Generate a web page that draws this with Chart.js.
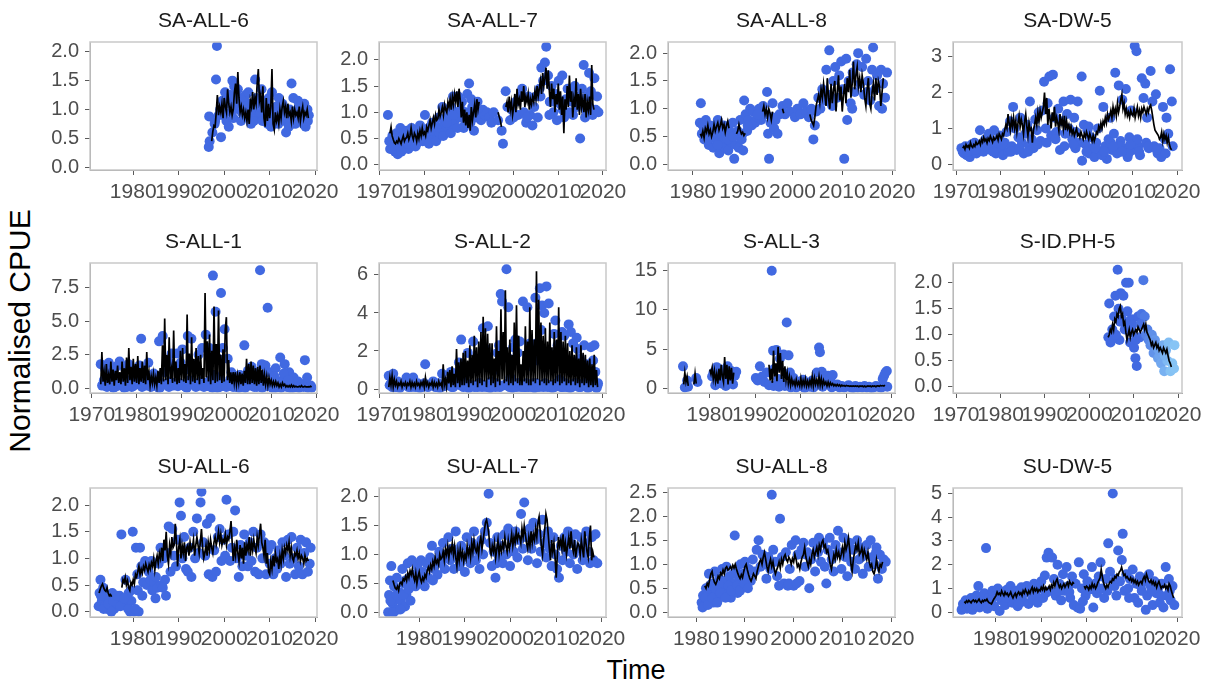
<!DOCTYPE html>
<html>
<head>
<meta charset="utf-8">
<script src="https://cdn.jsdelivr.net/npm/chart.js@4.4.1/dist/chart.umd.min.js"></script>
<style>
  html, body { margin: 0; padding: 0; background: #ffffff; }
  #page { position: relative; width: 1209px; height: 688px; overflow: hidden;
          font-family: "Liberation Sans", Arial, Helvetica, sans-serif; }
  #page canvas { position: absolute; }
  .axis-title { position: absolute; color: #000; line-height: 1; white-space: nowrap; }
  #xTitle { left: 636px; top: 670px; font-size: 27px; transform: translate(-50%, -50%); }
  #yTitle { left: 20px; top: 331px; font-size: 30px; transform: translate(-50%, -50%) rotate(-90deg); }
</style>
</head>
<body>
<div id="page">
  <div class="axis-title" id="xTitle">Time</div>
  <div class="axis-title" id="yTitle">Normalised CPUE</div>
</div>
<script>
// ---------------------------------------------------------------------------
// Tick labels
// ---------------------------------------------------------------------------
const decadeTicks = [1970, 1980, 1990, 2000, 2010, 2020];
const ticksHalf2 = [0, 0.5, 1, 1.5, 2];
const ticksHalf25 = [0, 0.5, 1, 1.5, 2, 2.5];
const ticksUnit3 = [0, 1, 2, 3];
const ticksUnit5 = [0, 1, 2, 3, 4, 5];
const ticksS1 = [0, 2.5, 5, 7.5];
const ticksS2 = [0, 2, 4, 6];
const ticksS3 = [0, 5, 10, 15];

// ---------------------------------------------------------------------------
// Observed CPUE: [time, normalised CPUE]
// Fitted CPUE: quarterly values starting at the given time (null = no fit)
// ---------------------------------------------------------------------------
const saAll6Obs = [[1996.6,0.35],[1996.8,0.45],[1996.7,0.88],[1997.4,0.6],[1997.9,0.75],[1998.2,1.52],[1998.4,2.1],[1998.8,0.9],[1999.3,0.52],[1999.1,1.0],[1999.6,1.15],[2000.2,1.3],[2000.5,0.8],[2000.9,1.1],[2001.4,1.25],[2001.8,1.5],[2002.2,1.4],[2002.6,1.05],[2003.0,1.35],[2003.5,1.2],[2003.9,0.95],[2004.3,0.9],[2004.7,1.25],[2005.1,1.1],[2005.5,0.85],[2005.9,0.75],[2006.3,1.0],[2006.8,1.52],[2007.1,1.2],[2007.5,0.9],[2007.9,1.15],[2008.2,1.35],[2008.6,1.1],[2009.0,0.8],[2009.4,0.95],[2009.8,1.2],[2010.3,0.7],[2010.7,1.0],[2011.1,0.85],[2011.5,1.05],[2011.9,0.75],[2012.3,0.95],[2012.8,1.1],[2013.2,0.8],[2013.6,0.6],[2014.0,0.9],[2014.4,1.0],[2014.8,1.45],[2015.2,1.2],[2015.6,0.75],[2016.0,0.9],[2016.4,1.05],[2016.8,0.8],[2017.2,0.95],[2017.6,1.1],[2018.0,0.85],[2018.3,1.0],[2018.6,0.9],[1998.0,0.8],[2000.0,0.95],[2002.0,0.85],[2004.0,1.15],[2006.0,1.1],[2008.0,0.95],[2010.0,0.9],[2012.0,1.2],[2014.2,0.7],[2016.2,1.15],[2017.9,0.7],[2001.0,0.7],[2003.2,1.0],[2005.3,1.3],[2009.2,1.1],
  [1999.8,0.9],[2000.7,1.2],[2001.6,0.95],[2002.4,1.2],[2003.7,0.8],[2004.5,1.05],[2005.7,0.95],[2006.5,0.8],[2007.3,1.05],[2008.4,0.8],[2009.6,0.75],[2010.5,1.3],[2011.3,0.95],[2012.5,0.85],[2013.4,1.0],[2014.6,0.85],[2015.4,0.95],[2016.6,0.95],[2017.4,0.75],[2018.4,0.8]];
const saAll6FitStart = 1997.25;
const saAll6Fit = [0.45,0.62,0.72,
  0.70,0.95,1.25,0.90, 1.05,0.95,1.10,0.85, 1.20,1.05,0.95,1.35, 1.10,0.95,1.05,0.90,
  1.00,1.30,1.45,1.10, 1.65,1.20,0.95,1.05, 0.90,1.00,0.85,0.95, 0.80,1.00,0.75,1.15,
  1.05,1.30,1.00,1.20, 1.10,1.45,1.70,1.15, 1.25,0.95,1.40,0.85, 0.70,1.20,0.80,1.10,
  0.85,1.05,1.70,0.75, 0.65,0.95,0.80,0.90, 0.75,1.00,0.85,1.05, 1.15,0.95,1.05,0.85,
  1.10,0.90,0.95,0.80, 1.05,0.85,1.00,0.90, 0.95,0.85,1.05,0.80, 0.95,1.05,0.85,0.95,
  0.90,1.00,0.85];

const saAll7Obs = [[1971.8,0.95],[1972.3,0.3],[1972.5,0.45],[1972.8,0.55],[1973.1,0.35],[1973.4,0.25],[1973.7,0.6],[1974.0,0.2],[1974.3,0.45],[1974.6,0.7],[1975.0,0.35],[1975.3,0.55],[1975.7,0.4],[1976.0,0.65],[1976.4,0.3],[1976.8,0.5],[1977.1,0.7],[1977.5,0.45],[1977.9,0.6],[1978.2,0.4],[1978.6,0.55],[1979.0,0.75],[1979.4,0.5],[1979.8,0.6],[1980.1,0.95],[1980.5,0.45],[1980.9,0.7],[1981.3,0.55],[1981.7,0.8],[1982.0,0.6],[1982.4,0.75],[1982.8,0.5],[1983.2,0.9],[1983.6,0.7],[1984.0,1.1],[1984.4,0.8],[1984.8,0.65],[1985.2,0.95],[1985.6,0.75],[1986.0,1.1],[1986.4,1.3],[1986.8,0.85],[1987.2,1.0],[1987.6,1.3],[1988.0,0.9],[1988.4,1.2],[1988.8,0.7],[1989.2,1.0],[1989.6,1.35],[1990.0,1.55],[1990.3,0.8],[1990.7,1.1],[1991.1,0.65],[1991.5,0.9],[1991.9,1.2],[1992.3,1.0],[1992.7,0.85],[1993.1,1.05],[1993.5,0.95],[1994.0,1.0],[1994.5,0.9],[1995.0,0.8],[1995.5,1.0],[1996.5,0.85],[1997.3,0.65],[1997.6,0.4],[1998.2,1.4],[1998.6,1.1],[1999.2,0.85],[1999.6,1.05],[2000.0,0.9],[2000.5,1.2],[2001.0,0.95],[2001.4,1.3],[2001.9,1.45],[2002.3,1.0],[2002.8,0.8],[2003.3,1.3],[2003.7,0.95],[2004.2,0.75],[2004.6,1.1],[2005.0,1.3],[2005.4,0.9],[2005.8,1.45],[2006.2,1.85],[2006.6,1.6],[2007.0,1.95],[2007.3,2.25],[2007.7,1.7],[2008.1,1.2],[2008.5,1.5],[2008.9,1.0],[2009.3,1.35],[2009.7,0.85],[2010.1,1.6],[2010.5,1.15],[2010.9,1.7],[2011.3,0.9],[2011.7,1.25],[2012.1,1.45],[2012.5,1.0],[2012.9,1.35],[2013.3,0.95],[2013.7,1.5],[2014.1,1.1],[2014.5,1.3],[2014.9,0.5],[2015.3,1.45],[2015.7,1.9],[2016.1,1.05],[2016.5,1.3],[2016.9,1.75],[2017.3,1.4],[2017.7,0.95],[2018.1,1.65],[2018.4,1.05],[2018.7,1.3],[2019.0,1.0],[2003.0,0.9],[2009.0,1.2],[2011.0,1.05],[2013.0,1.2],[2016.0,0.9],[2017.0,1.1],[2006.0,1.3],[2008.0,0.95],
  [1972.1,0.45],[1972.9,0.3],[1973.3,0.5],[1974.1,0.35],[1974.8,0.25],[1975.5,0.45],[1976.2,0.4],[1977.3,0.55],[1978.0,0.35],[1978.8,0.65],[1979.6,0.45],[1980.3,0.6],[1981.0,0.4],[1981.9,0.65],[1982.6,0.45],[1983.4,0.6],[1984.2,0.55],[1985.0,0.8],[1985.9,0.6],[1986.6,0.95],[1987.4,0.7],[1988.2,1.05],[1989.0,0.75],[1989.8,0.9],[1990.5,1.25],[1991.3,1.0]];
const saAll7FitStart = 1972.25;
const saAll7Fit = [0.60,0.72,0.55,
  0.48,0.42,0.40,0.45, 0.42,0.50,0.45,0.40, 0.48,0.55,0.45,0.50, 0.52,0.60,0.48,0.55,
  0.70,0.55,0.48,0.60, 0.55,0.45,0.60,0.50, 0.65,0.55,0.70,0.58, 0.62,0.55,0.72,0.65,
  0.75,0.85,0.70,0.80, 0.90,0.78,0.95,0.85, 0.88,1.05,0.92,1.00, 1.10,0.95,1.15,1.05,
  1.00,1.20,1.10,1.25, 1.05,1.30,1.15,1.35, 1.20,1.40,1.10,1.45, 1.25,0.90,1.20,0.80,
  1.05,0.75,1.00,0.70, 0.95,0.65,1.10,0.85, 1.00,1.15,0.90,1.25, 1.05,1.20,null,null,
  null,null,null,null, null,null,null,null, null,null,null,null,
  null,null,1.00,0.92, 0.85,0.72,null,null, null,1.10,1.20,1.00, 1.30,1.05,1.20,0.95,
  1.10,1.35,1.00,1.45, 1.15,1.25,1.05,1.40, 1.20,1.50,1.10,1.30, 1.20,1.35,1.05,1.25,
  1.15,1.30,1.20,1.40, 1.25,1.50,1.30,1.45, 1.60,1.35,1.75,1.50, 1.65,1.85,1.45,1.80,
  1.40,1.10,1.55,1.25, 1.45,1.00,1.35,1.15, 1.55,1.05,1.40,0.95, 1.30,0.60,1.25,1.05,
  1.50,1.10,1.70,1.20, 1.40,0.90,1.25,1.10, 1.65,1.05,1.35,0.95, 1.45,1.10,1.25,1.00,
  1.35,0.90,1.20,1.05, 1.30,0.95,1.90,1.15, 1.05];

const saAll8Obs = [[1981.4,0.75],[1981.6,1.1],[1981.8,0.55],[1982.0,0.7],[1982.3,0.45],[1982.6,0.8],[1982.9,0.6],[1983.2,0.35],[1983.5,0.7],[1983.8,0.5],[1984.1,0.3],[1984.4,0.65],[1984.7,0.45],[1985.0,0.8],[1985.3,0.2],[1985.6,0.55],[1985.9,0.4],[1986.2,0.7],[1986.5,0.3],[1986.8,0.5],[1987.1,0.25],[1987.4,0.6],[1987.7,0.4],[1988.0,0.75],[1988.3,0.1],[1988.6,0.35],[1988.9,0.55],[1989.2,0.3],[1989.5,0.8],[1989.8,0.45],[1990.1,0.25],[1990.3,1.15],[1990.6,0.9],[1990.9,0.6],[1991.2,0.8],[1991.5,1.0],[1991.8,0.7],[1992.1,0.95],[1992.5,0.75],[1992.9,0.85],[1993.3,1.0],[1993.7,0.8],[1994.1,1.05],[1994.5,0.9],[1994.9,1.3],[1995.1,0.55],[1995.3,0.1],[1995.6,0.75],[1996.0,1.1],[1996.3,0.65],[1996.6,0.8],[1997.0,0.55],[1997.4,0.9],[1998.0,1.05],[1998.5,0.9],[1999.0,1.1],[1999.5,0.95],[2000.5,0.85],[2001.0,1.0],[2001.6,0.9],[2002.2,1.1],[2002.7,0.95],[2003.3,0.85],[2003.8,1.0],[2004.2,0.45],[2004.5,0.7],[2004.8,0.95],[2005.2,1.2],[2005.6,1.0],[2006.0,1.35],[2006.4,1.15],[2006.8,1.7],[2007.1,1.25],[2007.4,2.05],[2007.8,1.1],[2008.2,1.5],[2008.6,1.75],[2009.0,1.2],[2009.4,1.6],[2009.8,1.85],[2010.1,1.35],[2010.4,0.1],[2010.8,1.9],[2011.0,0.8],[2011.3,1.5],[2011.7,1.1],[2012.1,1.65],[2012.5,1.3],[2012.9,1.8],[2013.2,2.0],[2013.6,1.45],[2014.0,1.75],[2014.4,1.25],[2014.8,1.9],[2015.2,1.5],[2015.6,1.15],[2016.0,1.7],[2016.2,2.1],[2016.6,1.35],[2017.0,1.6],[2017.4,1.05],[2017.8,1.7],[2018.2,1.45],[2018.6,1.2],[2019.0,1.65],[2008.0,1.05],[2012.0,1.0],[2015.0,1.3],[2018.0,1.0],
  [1982.2,0.6],[1983.0,0.45],[1984.0,0.55],[1985.0,0.35],[1986.0,0.6],[1987.0,0.45],[1988.1,0.5],[1989.0,0.6],[1990.0,0.55],[1991.0,0.7],[1993.0,0.9],[1995.9,0.85]];
const saAll8FitStart = 1981.5;
const saAll8Fit = [0.55,0.50,
  0.60,0.48,0.65,0.58, 0.70,0.55,0.62,0.50, 0.58,0.72,0.60,0.68, 0.75,0.62,0.70,0.80,
  0.65,0.72,0.58,0.70, 0.78,0.65,null,null, null,null,null,0.55, 0.60,0.72,0.62,0.55,
  0.58,0.52,0.56,null, null,null,null,null, null,null,null,null, null,null,null,null,
  0.95,1.05,0.90,1.00, 0.85,1.00,0.92,0.80, 0.95,null,null,null, null,null,null,null,
  1.00,0.92,null,null, null,null,null,null, null,null,null,null, null,null,null,null,
  null,null,null,null, null,null,0.90,0.80, 0.75,0.70,0.85,1.05, 1.15,1.25,1.10,1.35,
  1.20,1.45,1.25,1.05, 1.55,1.20,1.00,1.45, 1.10,1.35,1.50,0.95, 1.30,1.60,1.15,1.40,
  0.95,1.25,1.45,1.10, 1.55,1.30,1.70,1.20, 1.45,1.85,1.35,1.60, 1.75,1.40,1.55,1.30,
  1.60,1.45,1.20,1.05, 1.35,1.55,1.10,1.00, 1.30,1.45,1.15,1.55, 1.25,1.50,1.40,1.05,
  1.30,1.55];

const saDw5Obs = [[1971.2,0.45],[1971.5,0.35],[1971.8,0.3],[1972.1,0.5],[1972.4,0.25],[1972.8,0.4],[1973.1,0.2],[1973.5,0.55],[1973.9,0.35],[1974.2,0.6],[1974.6,0.3],[1975.0,0.45],[1975.4,0.95],[1975.8,0.55],[1976.2,0.35],[1976.6,0.7],[1977.0,0.5],[1977.4,0.85],[1977.8,0.4],[1978.2,0.65],[1978.6,0.95],[1979.0,0.3],[1979.4,0.55],[1979.8,0.8],[1980.2,0.45],[1980.6,0.25],[1981.0,0.6],[1981.4,0.9],[1981.8,0.35],[1982.2,1.2],[1982.6,0.5],[1982.9,1.6],[1983.3,1.0],[1983.7,0.4],[1984.1,0.75],[1984.5,1.3],[1984.9,0.6],[1985.3,0.3],[1985.7,0.85],[1986.1,1.1],[1986.5,0.5],[1986.7,1.75],[1987.1,0.7],[1987.5,0.45],[1987.9,1.25],[1988.3,0.95],[1988.7,1.45],[1989.1,0.65],[1989.5,1.5],[1989.9,2.3],[1990.3,1.0],[1990.7,1.7],[1991.1,2.45],[1991.5,0.8],[1991.9,2.5],[1992.3,1.3],[1992.7,0.9],[1993.1,1.55],[1993.5,0.4],[1993.9,1.2],[1994.3,1.75],[1994.7,0.85],[1995.1,1.4],[1995.5,1.0],[1995.9,1.8],[1996.3,0.7],[1996.7,1.3],[1997.1,0.9],[1997.5,1.75],[1997.9,0.6],[1998.4,2.45],[1998.5,0.1],[1998.9,1.1],[1999.3,0.55],[1999.7,0.95],[2000.1,0.3],[2000.5,0.75],[2000.9,0.45],[2001.3,0.2],[2001.7,0.6],[2002.1,1.0],[2002.5,2.05],[2002.9,0.35],[2003.3,1.6],[2003.7,0.5],[2004.1,0.15],[2004.5,0.7],[2004.9,1.3],[2005.3,0.4],[2005.7,0.85],[2006.0,2.55],[2006.4,0.3],[2006.8,2.2],[2007.2,0.65],[2007.6,1.8],[2008.0,0.45],[2008.4,2.1],[2008.8,0.2],[2009.2,0.75],[2009.6,1.5],[2010.0,0.4],[2010.4,3.3],[2010.8,3.15],[2011.2,0.5],[2011.6,0.25],[2012.0,2.4],[2012.4,1.85],[2012.8,2.25],[2013.2,1.3],[2013.6,0.45],[2014.0,2.6],[2014.4,1.75],[2014.8,0.5],[2015.2,1.95],[2015.6,0.3],[2016.0,0.45],[2016.4,0.2],[2016.8,1.6],[2017.2,0.7],[2017.6,1.3],[2018.0,0.85],[2018.4,2.65],[2018.8,1.75],[2019.0,0.5],[2000.0,1.05],[2003.0,0.25],[2005.0,0.6],[2007.0,0.5],[2009.0,0.3],[2011.0,0.7],[2013.0,0.6],[1997.0,0.45],
  [1972.6,0.35],[1974.4,0.4],[1976.4,0.5],[1978.4,0.35],[1980.4,0.55],[1982.4,0.35],[1984.3,0.45],[1986.3,0.35],[1988.5,0.55],[1990.5,0.6],[1992.5,0.7],[1994.5,0.5],[1996.5,0.55],[1999.5,0.35],[2001.5,0.45],[2003.5,0.35],[2005.5,0.5],[2007.5,0.35],[2009.4,0.55],[2011.4,0.35],[2013.4,0.5],[2015.4,0.4],[2017.4,0.3]];
const saDw5FitStart = 1971.5;
const saDw5Fit = [0.45,0.50,
  0.42,0.55,0.48,0.52, 0.45,0.60,0.50,0.47, 0.55,0.50,0.62,0.55, 0.58,0.65,0.55,0.70,
  0.62,0.75,0.65,0.70, 0.60,0.72,0.66,0.78, 0.70,0.62,0.75,0.68, 0.72,0.80,0.68,0.85,
  0.78,0.70,0.85,0.80, 0.95,1.10,1.00,1.40, 1.15,0.95,1.25,1.05, 1.30,1.00,1.20,0.90,
  1.15,1.35,1.05,1.25, 1.10,0.85,1.20,1.40, 1.05,0.80,1.15,0.95, 1.00,0.60,0.95,1.10,
  1.30,1.10,1.45,1.20, 1.50,1.30,1.45,1.60, 2.00,1.40,1.85,1.10, 1.55,1.25,1.00,1.45,
  1.20,1.60,1.05,1.30, 1.15,0.95,1.40,1.10, 1.25,1.00,1.35,0.95, 1.20,1.00,1.10,0.90,
  1.05,0.85,0.95,0.80, 0.90,1.00,0.80,0.85, 0.75,0.90,0.80,0.70, 0.85,0.75,0.90,0.80,
  0.70,0.85,0.75,0.65, 0.80,0.65,0.75,0.90, 0.85,1.05,0.95,1.15, 1.00,1.20,1.10,1.30,
  1.15,1.40,1.25,1.35, 1.50,1.30,1.60,1.40, 1.55,1.35,1.70,1.45, 1.60,1.80,1.95,1.55,
  1.70,1.40,1.55,1.35, 1.45,1.30,1.50,1.40, 1.35,1.55,1.30,1.45, 1.60,1.35,1.50,1.30,
  1.55,1.45,1.60,1.50, 1.40,1.55,1.45,1.60, 1.65,1.50,1.30,1.10, 0.95,0.90,0.85,0.80,
  0.70,0.75,0.90,0.65, 0.85,0.70,0.80,0.60, 0.75,0.55,0.45,0.40];

const sAll1Obs = [[1972.0,1.8],[1972.3,0.2],[1972.7,0.6],[1973.0,1.4],[1973.4,0.1],[1973.8,1.9],[1974.2,0.3],[1974.6,1.2],[1975.0,0.5],[1975.4,1.6],[1975.8,0.2],[1976.2,2.0],[1976.6,0.8],[1977.0,0.3],[1977.4,1.5],[1977.8,0.1],[1978.2,1.8],[1978.6,0.6],[1979.0,0.2],[1979.4,1.3],[1979.8,0.9],[1980.2,0.4],[1980.6,1.7],[1981.0,3.7],[1981.4,0.3],[1981.8,1.0],[1982.2,0.2],[1982.6,1.9],[1983.0,0.5],[1983.4,0.2],[1983.8,1.1],[1984.2,0.3],[1984.6,0.8],[1985.0,3.5],[1985.4,0.4],[1985.8,3.9],[1986.2,1.2],[1986.6,0.3],[1987.0,2.0],[1987.4,0.5],[1987.8,2.6],[1988.2,0.2],[1988.6,1.6],[1989.0,2.6],[1989.4,0.4],[1989.8,1.9],[1990.2,2.9],[1990.6,0.3],[1991.0,1.4],[1991.4,3.9],[1991.8,0.6],[1992.2,3.7],[1992.6,0.4],[1993.0,1.8],[1993.4,0.2],[1993.8,2.5],[1994.2,0.5],[1994.6,3.0],[1995.0,0.1],[1995.4,4.0],[1995.8,0.3],[1996.2,3.0],[1996.6,0.1],[1997.0,8.4],[1997.3,1.0],[1997.6,5.7],[1997.9,0.2],[1998.2,2.2],[1998.5,0.1],[1998.8,7.1],[1999.2,3.0],[1999.6,4.4],[1999.9,0.3],[2000.3,2.2],[2000.7,0.2],[2001.1,1.2],[2001.5,0.1],[2002.0,0.8],[2002.5,0.3],[2003.0,1.0],[2003.5,0.2],[2004.0,3.2],[2004.4,0.5],[2004.8,1.3],[2005.2,0.2],[2005.6,1.6],[2006.0,0.4],[2006.5,1.2],[2007.0,0.2],[2007.5,8.8],[2007.9,1.8],[2008.3,0.3],[2008.7,1.7],[2009.2,6.0],[2009.6,0.2],[2010.0,1.2],[2010.5,0.4],[2011.0,1.5],[2011.5,0.2],[2012.0,2.3],[2012.5,0.6],[2013.0,1.8],[2013.5,0.1],[2014.0,1.2],[2014.5,0.3],[2015.0,0.8],[2015.5,0.1],[2016.0,0.5],[2016.5,0.2],[2017.0,0.3],[2017.5,2.1],[2018.0,0.8],[2018.4,0.1],[2018.8,0.2],[2019.0,0.05],[1974.8,0.05],[1978.9,0.1],[1984.9,0.05],[1990.9,0.1],[1996.9,0.05],[2002.8,0.05],[2006.8,0.1],[2010.9,0.05],[2014.8,0.05],
  [1972.5,0.3],[1973.2,0.15],[1974.0,0.4],[1975.2,0.1],[1976.0,0.35],[1977.2,0.05],[1978.0,0.25],[1979.2,0.15],[1980.0,0.3],[1981.2,0.1],[1982.0,0.35],[1983.2,0.1],[1984.0,0.2],[1985.2,0.05],[1986.0,0.3],[1987.2,0.1],[1988.0,0.4],[1989.2,0.15],[1990.0,0.25],[1991.2,0.05],[1992.0,0.3],[1993.2,0.1],[1994.0,0.2],[1995.2,0.4],[1996.0,0.15],[1997.1,0.3],[1998.0,0.05],[1999.0,0.2],[2000.0,0.1],[2001.0,0.3],[2002.2,0.1],[2003.2,0.2],[2004.2,0.05],[2005.0,0.3],[2006.2,0.1],[2007.2,0.25],[2008.0,0.05],[2009.0,0.15],[2010.2,0.05],[2011.2,0.1],[2012.2,0.05],[2013.2,0.2],[2014.2,0.05],[2015.2,0.1],[2016.2,0.05],[2017.2,0.1],[2018.2,0.05],[1996.4,0.6],[1998.6,0.8],[2000.9,0.7],[2008.9,1.2],[2010.7,0.9],[2012.8,1.1],[2013.8,0.6]];
const sAll1FitStart = 1972.0;
const sAll1Fit = [
  0.3,2.7,0.5,1.2, 0.2,1.8,0.4,1.0, 0.3,2.0,0.5,1.4, 0.2,1.3,0.6,1.7, 0.4,1.2,0.3,2.0,
  0.5,1.5,0.2,2.3, 0.4,3.0,0.6,1.6, 0.3,2.2,0.5,1.8, 0.4,2.4,0.3,1.5, 0.5,2.0,0.4,1.7,
  0.3,2.7,0.6,1.2, 0.2,0.9,0.4,1.1, 0.3,0.8,0.2,1.3, 0.4,1.5,0.3,3.2, 0.5,5.2,0.6,2.5,
  0.3,3.8,0.7,1.4, 0.4,4.3,0.5,2.0, 0.3,1.5,0.4,2.8, 0.6,3.0,0.5,1.8, 0.4,5.5,0.6,2.6,
  0.3,3.8,0.5,2.2, 0.4,3.0,0.6,2.4, 0.3,2.5,0.7,1.5, 0.4,7.1,0.8,3.5, 0.5,4.0,0.3,2.8,
  0.6,6.1,0.4,3.3, 0.5,5.8,0.6,2.5, 0.4,2.9,0.5,4.4, 5.3,0.6,2.1,0.4, 1.2,0.3,1.2,0.4,
  1.2,0.3,1.0,0.4, 1.2,0.3,1.1,0.2, 1.3,0.4,2.2,0.3, 1.8,0.3,2.0,0.4, 1.7,0.3,1.5,0.2,
  1.6,0.3,1.7,0.4, 1.4,0.2,1.0,0.3, 0.9,0.2,0.8,0.3, 0.6,0.2,0.5,0.2, 0.5,0.2,0.4,0.1,
  0.3,0.1,0.4,0.2, 0.3,0.1,0.2,0.1, 0.2,0.1,0.25,0.1, 0.2,0.1,0.15,0.1, 0.1,0.15,0.1,0.2,
  0.1,0.1,0.15,0.1, 0.1,0.12,0.1,0.15, 0.1];

const sAll2Obs = [[1972.0,0.7],[1972.5,0.3],[1973.0,0.8],[1973.5,0.1],[1974.0,0.4],[1975.0,0.2],[1976.0,0.6],[1977.0,0.1],[1977.5,0.6],[1978.5,0.3],[1979.5,0.1],[1980.2,1.3],[1981.0,0.2],[1982.0,0.4],[1983.0,0.1],[1984.0,0.8],[1985.0,0.2],[1986.0,0.9],[1987.0,0.3],[1987.8,1.4],[1988.3,2.6],[1989.0,0.5],[1989.8,1.9],[1990.5,0.2],[1991.0,2.5],[1991.7,1.2],[1992.5,0.3],[1993.2,3.2],[1993.8,2.1],[1994.3,3.3],[1995.0,0.4],[1995.8,1.0],[1996.5,1.9],[1997.2,5.0],[1997.5,4.6],[1998.2,0.2],[1998.5,6.3],[1998.9,4.3],[1999.4,0.6],[2000.0,2.2],[2000.5,2.6],[2001.0,0.3],[2001.5,2.5],[2002.2,4.6],[2002.8,0.1],[2003.2,4.3],[2003.8,2.4],[2004.5,0.3],[2005.0,4.8],[2005.5,1.5],[2006.0,5.3],[2006.5,4.4],[2007.0,4.0],[2007.5,5.4],[2008.0,4.5],[2008.5,1.8],[2009.0,0.2],[2009.5,3.6],[2010.0,2.3],[2010.5,0.5],[2011.0,3.0],[2011.5,2.8],[2012.0,0.1],[2012.5,3.4],[2013.0,3.0],[2013.5,2.4],[2014.0,0.3],[2014.5,2.1],[2015.0,1.6],[2015.5,0.2],[2016.0,2.3],[2016.5,1.3],[2017.0,0.4],[2017.5,2.2],[2018.0,1.5],[2018.5,0.9],[2019.0,0.2],[1974.5,0.05],[1976.5,0.1],[1979.0,0.05],[1983.5,0.05],[1986.5,0.1],[1990.0,0.05],[1992.0,0.1],[1994.8,0.05],[1996.0,0.1],[1999.8,0.05],[2001.8,0.1],[2003.5,0.1],[2004.8,0.05],[2006.8,0.1],[2008.8,0.05],[2010.8,0.1],[2012.8,0.05],[2014.8,0.1],[2016.8,0.05],[2018.8,0.05],
  [1972.2,0.2],[1972.8,0.1],[1973.2,0.3],[1973.8,0.2],[1974.2,0.1],[1975.5,0.3],[1976.2,0.2],[1977.2,0.35],[1978.0,0.1],[1979.0,0.2],[1980.0,0.3],[1980.8,0.1],[1981.5,0.25],[1982.5,0.1],[1983.2,0.3],[1984.5,0.15],[1985.5,0.4],[1986.2,0.1],[1987.2,0.5],[1988.0,0.2],[1988.8,0.1],[1989.5,0.3],[1990.2,0.15],[1991.3,0.1],[1992.2,0.3],[1993.0,0.1],[1993.5,0.2],[1994.0,0.1],[1995.3,0.2],[1996.2,0.3],[1997.0,0.1],[1997.8,0.2],[1998.8,0.3],[1999.2,0.1],[2000.2,0.2],[2000.8,0.1],[2001.3,0.3],[2002.0,0.2],[2002.5,0.1],[2003.0,0.3],[2004.0,0.2],[2004.3,0.1],[2005.2,0.3],[2005.8,0.1],[2006.2,0.2],[2007.2,0.3],[2007.8,0.1],[2008.2,0.2],[2009.3,0.1],[2009.8,0.3],[2010.2,0.2],[2011.2,0.1],[2011.8,0.3],[2012.2,0.2],[2013.2,0.1],[2013.8,0.3],[2014.2,0.2],[2015.2,0.1],[2015.8,0.3],[2016.2,0.2],[2017.2,0.1],[2017.8,0.3],[2018.2,0.2],[2018.6,0.1],[2019.1,0.3],
  [1996.8,2.3],[1999.0,1.6],[2001.0,1.9],[2003.5,1.2],[2005.3,2.4],[2006.3,3.1],[2007.3,1.7],[2009.2,2.9],[2012.3,1.5],[2014.3,2.7],[2016.3,1.1],[2018.3,2.3]];
const sAll2FitStart = 1972.0;
const sAll2Fit = [
  0.1,0.6,0.2,0.7, 0.1,0.5,0.2,0.4, 0.1,0.3,0.2,0.4, 0.1,0.3,0.2,0.35, 0.1,0.3,0.2,0.4,
  0.1,0.35,0.15,0.3, 0.1,0.4,0.2,0.3, 0.1,0.35,0.2,0.4, 0.1,0.6,0.2,0.35, 0.1,0.3,0.2,0.4,
  0.1,0.35,0.15,0.3, 0.1,0.4,0.2,0.3, 0.1,1.3,0.2,0.5, 0.1,0.9,0.3,1.0, 0.1,1.2,0.2,0.8,
  0.1,2.1,0.3,1.4, 0.1,1.6,0.2,1.9, 0.2,2.0,0.3,1.5, 0.1,2.3,0.3,1.8, 0.2,2.8,0.4,2.2,
  0.1,2.5,0.3,3.0, 0.2,3.8,0.4,3.2, 0.1,2.9,0.5,2.4, 0.2,2.4,0.3,1.6, 0.1,3.3,0.4,2.0,
  0.2,4.2,0.5,3.0, 0.3,5.2,0.4,2.2, 0.2,2.6,0.3,1.8, 0.2,3.5,0.4,4.4, 0.3,2.8,0.2,1.3,
  0.2,2.0,0.4,3.3, 0.3,2.5,0.2,4.3, 0.2,3.1,0.4,2.6, 0.3,6.2,0.5,4.7, 0.2,3.5,0.4,2.8,
  0.3,3.2,0.2,2.5, 0.3,3.5,0.4,2.2, 0.2,3.0,0.3,2.6, 0.4,4.3,0.2,3.0, 0.3,2.5,0.4,2.8,
  0.2,2.4,0.3,2.0, 0.2,2.3,0.4,1.8, 0.2,2.2,0.3,1.6, 0.1,2.3,0.3,1.9, 0.2,1.8,0.3,1.5,
  0.1,1.6,0.2,1.3, 0.1,1.8,0.2,1.0, 0.1];

const sAll3Obs = [[1974.1,2.8],[1974.5,0.1],[1975.2,0.2],[1975.0,1.0],[1977.0,1.3],[1977.3,0.8],[1980.5,1.5],[1980.8,2.0],[1981.2,0.4],[1981.5,2.7],[1981.9,1.2],[1982.3,2.4],[1982.7,0.6],[1983.1,1.8],[1983.5,0.3],[1983.9,2.8],[1984.3,1.0],[1984.7,2.2],[1985.1,0.5],[1985.5,1.6],[1985.8,2.1],[1990.1,1.3],[1990.5,1.0],[1991.0,2.8],[1991.5,1.5],[1992.0,0.8],[1992.5,2.0],[1993.6,15.0],[1993.9,4.8],[1994.2,2.5],[1994.6,4.9],[1995.0,1.2],[1995.4,3.8],[1995.8,0.6],[1996.2,4.3],[1996.9,8.4],[1997.3,4.2],[1997.6,2.0],[1998.0,0.5],[1998.4,1.3],[1998.9,0.2],[1999.5,0.8],[2000.0,0.3],[2000.5,1.1],[2001.0,0.1],[2001.5,0.6],[2002.0,0.2],[2002.5,1.0],[2003.0,0.4],[2003.5,2.0],[2004.0,5.2],[2004.2,4.6],[2004.6,2.1],[2005.0,1.5],[2005.5,0.8],[2006.0,1.6],[2006.5,1.2],[2007.0,1.7],[2007.5,0.3],[2008.0,0.5],[2008.5,0.1],[2009.0,0.3],[2010.0,0.2],[2010.5,0.4],[2011.0,0.1],[2012.0,0.3],[2012.5,0.1],[2013.0,0.2],[2014.0,0.3],[2014.5,0.1],[2015.0,0.2],[2016.0,0.1],[2016.5,0.3],[2017.0,0.2],[2017.5,0.1],[2018.0,1.2],[2018.3,1.6],[2018.6,2.0],[2018.9,2.2],[2019.0,0.2],
  [1981.0,1.9],[1982.0,1.6],[1983.3,2.2],[1984.0,1.5],[1985.3,1.9],[1993.0,0.4],[1994.0,0.3],[1995.2,0.2],[1996.5,0.3],[1997.8,0.1],[1999.0,0.1],[2000.8,0.05],[2002.8,0.1],[2004.8,0.2],[2006.8,0.1],[2009.5,0.1],[2011.5,0.05],[2013.5,0.1],[2015.5,0.05],[2017.8,0.1]];
const sAll3FitStart = 1974.0;
const sAll3Fit = [
  null,0.5,2.0,0.8, 1.5,0.3,null,null, null,null,0.5,1.9, 0.6,null,null,null,
  null,null,null,null, null,null,null,null,
  2.4,1.8,2.6,1.2, 2.2,0.9,1.8,0.6, 2.5,1.0,3.0,1.5, 0.8,4.0,1.2,3.0, 0.5,2.8,1.0,2.6,
  0.6,2.0,null,null,
  null,null,null,null, null,null,null,null, null,null,null,null, null,null,null,null,
  null,null,null,null, null,null,null,null, null,null,null,null,
  3.0,1.0,2.5,0.7, 4.8,1.5,3.2,0.9, 5.3,2.0,4.5,1.2, 3.5,0.8,2.8,1.0, 2.0,0.6,1.5,0.4,
  1.2,0.5,0.9,0.3, 1.1,0.4,0.8,0.3, 1.3,0.3,1.0,0.4, 1.2,0.3,0.9,0.3, 1.0,0.4,1.5,0.3,
  1.3,0.5,1.1,0.4, 1.5,0.4,1.2,0.3, 1.0,0.5,0.8,0.3, 0.8,0.3,0.7,0.4, 0.6,0.3,0.5,0.3,
  0.5,0.3,0.45,0.25, 0.4,0.3,0.35,0.25, 0.35,0.3,0.3,0.25, 0.3,0.25,0.3,0.25, 0.3,0.25,0.3,0.2,
  0.3,0.25,0.3,0.2, 0.3,0.2,0.25,0.3, 0.25,0.3,0.2,0.3, 0.25,0.3,0.2,0.3, 0.3,0.25,0.35,0.3,
  0.35,0.3,0.4];

const sIdPh5Obs = [[2004.3,0.95],[2004.5,1.6],[2004.8,0.85],[2005.2,1.1],[2005.6,1.35],[2005.9,1.75],[2006.4,2.25],[2006.6,1.5],[2006.8,0.9],[2007.1,1.8],[2007.4,1.3],[2007.7,1.75],[2008.0,1.1],[2008.3,2.0],[2008.6,1.45],[2008.9,2.0],[2009.2,0.85],[2009.5,1.3],[2009.8,1.2],[2010.1,0.75],[2010.4,0.55],[2010.7,0.4],[2011.0,1.35],[2011.4,0.95],[2011.8,1.4],[2012.2,2.05],[2012.5,1.35],[2012.8,1.0],[2013.1,1.1],[2013.4,0.9],[2013.8,0.8],[2014.1,1.0],[2014.5,0.65],[2014.8,0.9],[2015.2,0.75],[2015.5,0.55],[2015.9,0.6],[2016.2,0.45],[2016.6,0.8],[2016.9,0.3],[2017.3,0.7],[2017.6,0.5],[2017.9,0.85],[2018.3,0.3],[2018.7,0.45],[2019.1,0.35],[2019.2,0.8],
  [2005.0,0.9],[2006.0,1.0],[2007.0,1.25],[2008.4,1.2],[2009.6,1.05],[2010.5,0.9],[2011.6,1.2],[2014.3,0.85],[2015.7,0.7],[2017.0,0.6]];
const sIdPh5FitStart = 2004.25;
const sIdPh5Fit = [0.95,1.00,1.10,
  1.05,1.20,1.10,1.30, 1.25,1.40,1.35,1.50, 1.55,1.35,1.40,1.20, 1.25,1.05,0.90,1.00,
  1.10,0.95,1.05,1.10, 1.00,1.05,1.10,1.05, 1.15,1.10,1.05,1.10, 1.15,1.20,1.10,1.20,
  1.05,1.00,0.95,0.90, 0.80,0.85,0.75,0.80, 0.85,0.75,0.80,0.70, 0.75,0.70,0.65,0.75,
  0.70,0.65,0.72,0.60, 0.50,0.45,0.38];

const suAll6Obs = [[1972.4,0.1],[1972.6,0.35],[1972.8,0.6],[1973.1,0.2],[1973.4,0.45],[1973.7,0.1],[1974.0,0.3],[1974.3,0.05],[1974.7,0.25],[1975.0,0.15],[1975.4,0.35],[1975.8,0.05],[1976.2,0.2],[1976.6,0.1],[1977.0,0.3],[1977.4,1.45],[1977.8,0.15],[1978.3,0.6],[1978.6,0.1],[1979.0,0.35],[1979.3,0.0],[1979.6,0.2],[1979.9,1.5],[1980.2,0.0],[1980.6,1.2],[1980.9,0.7],[1981.2,0.0],[1981.5,1.2],[1981.8,0.85],[1982.2,0.55],[1982.6,0.95],[1983.0,0.5],[1983.4,0.75],[1983.8,0.6],[1984.2,0.4],[1984.6,0.55],[1984.9,0.25],[1985.3,0.45],[1985.6,0.9],[1986.0,1.2],[1986.3,0.5],[1986.7,1.0],[1987.0,0.6],[1987.4,1.1],[1987.8,1.6],[1988.2,0.75],[1988.6,1.55],[1989.0,1.05],[1989.4,0.85],[1989.8,1.35],[1990.2,2.05],[1990.5,1.8],[1990.8,1.0],[1991.2,1.4],[1991.6,0.8],[1992.0,0.75],[1992.4,1.2],[1992.8,0.65],[1993.2,1.5],[1993.6,1.0],[1994.0,1.75],[1994.4,1.1],[1994.8,2.05],[1995.0,2.25],[1995.4,1.3],[1995.8,1.05],[1996.2,1.65],[1996.6,0.7],[1997.0,1.75],[1997.4,0.65],[1997.8,1.15],[1998.2,0.75],[1998.6,1.4],[1999.0,1.55],[1999.4,0.95],[1999.8,1.35],[2000.2,1.05],[2000.5,2.1],[2000.9,1.45],[2001.3,0.95],[2001.7,1.2],[2002.0,1.5],[2002.4,1.9],[2002.8,1.0],[2003.2,0.65],[2003.6,1.25],[2004.0,0.85],[2004.4,1.45],[2004.8,1.05],[2005.2,0.85],[2005.6,1.3],[2006.0,0.95],[2006.4,1.5],[2006.8,0.75],[2007.2,1.2],[2007.6,0.7],[2008.0,1.45],[2008.4,1.0],[2008.8,1.3],[2009.2,0.7],[2009.6,1.15],[2010.0,0.9],[2010.4,1.25],[2010.8,0.7],[2011.2,1.0],[2011.6,0.8],[2012.0,1.15],[2012.4,0.9],[2012.8,1.3],[2013.2,1.05],[2013.6,0.65],[2014.0,1.35],[2014.4,0.9],[2014.8,1.4],[2015.2,1.0],[2015.6,0.7],[2016.0,1.2],[2016.4,0.85],[2016.8,1.35],[2017.2,0.7],[2017.6,1.1],[2018.0,1.3],[2018.4,0.75],[2018.8,0.9],[2019.0,1.2],
  [1972.9,0.3],[1973.5,0.05],[1974.5,0.15],[1975.2,0.0],[1975.6,0.2],[1976.4,0.3],[1977.2,0.1],[1978.0,0.25],[1978.9,0.05],[1979.5,0.4],[1980.5,0.05],[1981.0,0.4],[1982.0,0.3],[1983.2,0.85],[1984.0,0.95],[1985.0,0.65],[1986.5,0.45],[1987.2,0.3]];
const suAll6FitStart = 1972.5;
const suAll6Fit = [0.35,0.42,
  0.48,0.52,0.45,0.40, 0.38,0.45,0.35,0.30, 0.32,0.28,null,null, null,null,null,null,
  null,null,0.45,0.60, 0.55,0.65,0.50,0.58, 0.45,0.40,0.55,0.50, 0.60,0.52,0.70,0.65,
  0.75,0.85,0.70,0.80, 0.72,0.85,0.78,0.90, 0.82,0.75,0.88,0.80, 0.92,0.85,1.00,0.78,
  0.95,1.05,0.90,1.10, 1.00,1.20,0.95,1.35, 1.15,1.50,1.05,0.90, 1.25,1.10,1.40,1.20,
  1.25,1.65,1.30,0.85, 1.20,1.35,1.00,1.25, 1.10,1.30,0.95,1.20, 1.25,1.05,1.30,1.15,
  1.20,1.35,1.05,1.25, 1.40,1.25,1.10,1.30, 1.55,1.20,1.00,1.10, 1.25,1.05,1.30,1.15,
  1.35,1.20,1.10,1.30, 1.40,1.25,1.35,1.50, 1.30,1.45,1.25,1.35, 1.30,1.45,1.25,1.40,
  1.35,1.50,1.70,1.30, 0.95,1.20,1.05,1.35, 1.10,0.95,1.25,1.00, 1.20,0.90,1.30,1.05,
  1.25,1.15,1.40,1.05, 1.30,1.15,1.35,1.20, 1.10,1.40,1.25,1.45, 1.65,1.30,1.20,1.05,
  1.35,0.90,1.10,0.75, 0.70,0.95,0.80,1.05, 0.85,1.10,0.95,1.00, 0.80,1.05,0.90,1.15,
  1.00,1.20,1.10,1.25, 1.15,1.30,1.05,1.20, 1.00,0.95,1.10,1.05, 1.15,1.00,1.10,0.95,
  1.05,1.00,0.90,1.05, 0.95,1.00,0.95];

const suAll7Obs = [[1973.2,0.0],[1973.4,0.3],[1973.6,0.55],[1973.9,0.8],[1974.2,0.15],[1974.5,0.45],[1974.8,0.25],[1975.1,0.6],[1975.4,0.05],[1975.7,0.35],[1976.0,0.2],[1976.3,0.75],[1976.6,0.5],[1976.9,0.1],[1977.2,0.3],[1977.5,0.85],[1977.8,0.6],[1978.1,0.2],[1978.4,0.9],[1978.8,0.65],[1979.2,0.45],[1979.6,0.8],[1980.0,0.55],[1980.4,0.9],[1980.8,0.7],[1981.2,0.45],[1981.6,0.85],[1982.0,0.6],[1982.4,0.95],[1982.8,1.15],[1983.2,0.75],[1983.6,0.9],[1984.0,0.65],[1984.4,1.05],[1984.8,0.85],[1985.2,1.2],[1985.6,0.75],[1986.0,1.0],[1986.4,1.3],[1986.8,0.9],[1987.2,1.1],[1987.6,0.75],[1988.0,1.4],[1988.4,1.0],[1988.8,0.8],[1989.2,1.15],[1989.6,0.95],[1990.0,0.7],[1990.4,1.3],[1990.8,1.05],[1991.2,0.85],[1991.6,1.2],[1992.0,1.4],[1992.4,0.9],[1992.8,1.1],[1993.2,0.75],[1993.6,1.25],[1994.0,1.0],[1994.4,1.4],[1994.8,1.55],[1995.2,2.05],[1995.5,1.2],[1995.9,0.8],[1996.3,1.05],[1996.7,0.6],[1997.1,1.3],[1997.5,0.95],[1997.9,1.15],[1998.3,0.85],[1998.7,1.35],[1999.1,1.0],[1999.5,1.45],[1999.9,0.8],[2000.3,1.2],[2000.7,1.05],[2001.1,1.4],[2001.5,0.95],[2001.9,1.25],[2002.3,1.7],[2002.7,1.1],[2003.0,1.9],[2003.4,1.3],[2003.8,0.9],[2004.2,1.45],[2004.6,1.1],[2005.0,1.55],[2005.4,1.25],[2005.8,0.85],[2006.2,1.35],[2006.6,1.05],[2007.0,1.6],[2007.4,1.2],[2007.8,0.95],[2008.2,1.4],[2008.6,1.1],[2009.0,0.8],[2009.4,1.3],[2009.8,1.0],[2010.2,0.75],[2010.6,0.6],[2011.0,1.15],[2011.4,0.9],[2011.8,1.3],[2012.2,1.05],[2012.6,1.4],[2013.0,0.85],[2013.4,1.2],[2013.8,1.0],[2014.2,1.35],[2014.6,0.75],[2015.0,1.1],[2015.4,1.3],[2015.8,0.9],[2016.2,1.2],[2016.6,1.4],[2017.0,1.05],[2017.4,0.85],[2017.8,1.3],[2018.2,0.9],[2018.6,1.35],[2019.0,0.85],
  [1973.7,0.2],[1974.4,0.0],[1975.0,0.3],[1975.9,0.05],[1976.5,0.3],[1977.0,0.55],[1977.7,0.4],[1978.6,0.5],[1979.4,0.65],[1981.0,0.65],[1983.0,0.55],[1985.0,0.9],[1987.0,0.95],[1989.0,0.85],[1991.0,1.0],[1993.0,1.05],[1997.0,0.85],[2000.0,1.3],[2004.0,1.3],[2008.0,1.25],[2012.0,1.2],[2016.0,1.0]];
const suAll7FitStart = 1974.25;
const suAll7Fit = [0.55,0.48,0.42,
  0.40,0.45,0.38,0.50, 0.52,0.48,0.58,0.55, 0.62,0.55,0.68,0.60, 0.72,0.65,0.75,0.62,
  0.55,0.68,0.50,0.62, 0.70,0.58,0.52,0.60, 0.55,0.65,0.60,0.72, 0.78,0.70,0.82,0.75,
  0.88,0.80,0.95,0.85, 0.90,0.82,1.00,0.92, 0.95,1.05,0.90,1.10, 1.00,1.15,0.95,1.12,
  1.05,1.20,1.00,1.15, 0.95,0.80,1.05,0.90, 1.10,0.95,1.05,0.88, 1.00,0.92,1.15,1.00,
  1.10,0.95,1.20,1.05, 1.25,1.10,1.05,1.15, 1.00,1.20,1.30,1.10, 1.25,1.40,1.55,1.60,
  1.50,1.35,1.10,1.00, 1.15,1.05,1.20,0.95, 1.10,1.25,1.00,1.15, 1.05,1.20,1.10,1.30,
  1.15,1.05,1.25,1.10, 1.20,1.35,1.15,1.30, 1.20,1.40,1.25,1.35, 1.30,1.20,1.45,1.30,
  1.50,1.35,1.20,1.10, 1.30,1.15,1.40,1.20, 1.35,1.25,1.45,1.30, 1.55,1.65,1.40,1.15,
  1.00,1.25,1.45,1.70, 1.60,1.35,1.10,0.90, 1.25,1.05,1.20,0.95, 0.60,1.00,1.30,1.15,
  1.25,1.10,1.35,1.05, 1.20,1.00,1.15,1.30, 1.10,1.40,1.15,1.05, 1.25,0.95,1.10,1.20,
  1.15,1.00,1.25,1.10, 0.95,1.40,1.20,1.05, 0.95,1.30,1.50,0.90, 1.05,0.95];

const suAll8Obs = [[1981.1,0.2],[1981.4,0.35],[1981.7,0.15],[1982.0,0.5],[1982.3,0.25],[1982.6,0.8],[1982.9,0.4],[1983.2,0.6],[1983.5,0.2],[1983.8,0.85],[1984.1,0.45],[1984.4,0.3],[1984.7,0.7],[1985.0,0.55],[1985.3,0.9],[1985.6,0.35],[1985.9,0.65],[1986.2,0.95],[1986.5,0.45],[1986.8,0.75],[1987.1,0.3],[1987.4,0.6],[1987.9,1.6],[1988.2,0.85],[1988.5,0.4],[1988.8,0.7],[1989.1,1.0],[1989.4,0.55],[1989.7,0.8],[1990.0,1.05],[1990.4,0.75],[1990.8,0.9],[1991.2,0.65],[1991.6,1.1],[1992.0,0.85],[1992.4,1.3],[1992.8,1.5],[1993.2,0.95],[1993.6,1.2],[1994.0,1.0],[1994.4,0.7],[1994.8,1.15],[1995.2,0.9],[1995.5,2.45],[1995.8,1.3],[1996.2,1.05],[1996.6,0.75],[1997.0,0.55],[1997.2,1.95],[1997.6,1.15],[1998.0,0.6],[1998.4,1.25],[1998.8,0.55],[1999.2,0.9],[1999.6,1.4],[2000.0,0.55],[2000.4,1.5],[2000.8,1.2],[2001.2,0.65],[2001.6,1.3],[2002.0,1.45],[2002.4,0.95],[2002.8,1.25],[2003.2,0.5],[2003.6,1.1],[2004.0,1.45],[2004.4,0.85],[2004.8,1.3],[2005.2,1.55],[2005.6,1.05],[2006.0,1.45],[2006.4,0.95],[2006.7,0.6],[2007.0,1.3],[2007.4,1.55],[2007.8,1.1],[2008.2,0.85],[2008.6,1.4],[2009.1,1.7],[2009.4,1.25],[2009.8,0.9],[2010.2,1.55],[2010.6,1.15],[2011.0,0.75],[2011.4,1.45],[2011.8,1.05],[2012.2,1.3],[2012.6,0.9],[2013.0,1.5],[2013.4,1.1],[2013.8,1.35],[2014.2,0.8],[2014.6,1.2],[2015.0,1.4],[2015.4,0.95],[2015.8,1.5],[2016.2,1.15],[2016.6,1.0],[2017.0,1.35],[2017.3,0.7],[2017.7,1.2],[2018.1,0.9],[2018.5,1.1],[2018.9,1.05],
  [1981.3,0.1],[1981.9,0.3],[1982.4,0.15],[1982.8,0.55],[1983.3,0.3],[1983.9,0.5],[1984.3,0.2],[1984.9,0.4],[1985.5,0.6],[1986.0,0.3],[1986.6,0.55],[1987.2,0.45],[1987.7,0.8],[1988.4,0.55],[1989.0,0.45],[1989.8,0.6],[1990.6,0.5],[1999.0,0.6],[2000.6,0.6],[2002.6,1.2],[2005.0,1.25],[2008.0,1.2],[2011.2,1.3],[2014.0,1.15],[2016.9,1.25]];
const suAll8FitStart = 1981.75;
const suAll8Fit = [0.55,
  0.50,0.60,0.55,0.68, 0.80,0.85,0.70,0.62, 0.58,0.65,0.75,0.70, 0.82,0.78,0.88,0.80,
  0.92,0.95,0.88,0.90, 0.95,0.90,0.98,0.92, 1.00,0.90,0.82,0.75, 0.70,0.78,0.72,0.85,
  0.95,1.00,0.88,0.78, 0.70,0.65,0.72,0.80, 0.75,0.70,0.85,0.95, 1.05,1.10,1.00,1.15,
  1.25,1.10,0.95,0.85, 1.00,1.10,0.95,1.05, 0.90,0.80,0.88,0.95, 1.05,0.92,1.10,1.00,
  1.15,1.20,1.10,1.05, 1.15,1.10,1.00,1.12, 1.05,1.20,1.10,0.95, 1.00,0.90,1.05,1.15,
  1.20,1.35,1.15,1.05, 0.95,1.10,1.00,1.20, 1.30,1.15,1.25,1.35, 1.20,1.40,1.30,1.45,
  1.50,1.35,1.40,1.25, 1.30,1.15,1.00,0.90, 1.05,1.20,1.10,1.30, 1.15,1.25,1.10,1.20,
  1.35,1.20,1.45,1.30, 1.40,1.55,1.30,1.00, 0.85,1.10,1.25,1.40, 1.30,1.45,1.20,1.25,
  1.35,1.15,1.30,1.20, 1.10,1.25,1.05,0.95, 1.00,0.85,0.80,0.90, 1.10,0.95,0.85,1.00,
  0.95,1.05];

const suDw5Obs = [[1972.4,0.1],[1972.7,0.35],[1973.0,0.2],[1973.3,0.5],[1973.6,0.15],[1973.9,0.4],[1974.2,0.25],[1974.5,0.6],[1974.8,0.1],[1975.1,0.45],[1975.4,0.3],[1975.7,0.7],[1976.1,1.1],[1976.4,0.2],[1976.7,0.55],[1977.0,0.35],[1977.4,0.8],[1977.8,2.7],[1978.1,0.15],[1978.4,0.6],[1978.8,0.4],[1979.2,0.9],[1979.6,0.25],[1980.0,0.7],[1980.4,1.0],[1980.8,0.05],[1981.2,0.5],[1981.6,0.85],[1982.0,0.3],[1982.4,0.95],[1982.8,0.6],[1983.2,1.1],[1983.6,0.4],[1984.0,0.75],[1984.4,0.9],[1984.8,0.25],[1985.2,0.65],[1985.6,1.05],[1986.0,0.45],[1986.4,0.8],[1986.8,1.1],[1987.2,0.35],[1987.6,0.95],[1988.0,0.55],[1988.4,1.2],[1988.8,0.7],[1989.2,0.4],[1989.6,1.0],[1990.0,1.3],[1990.4,0.6],[1990.8,1.55],[1991.2,2.3],[1991.6,2.5],[1992.0,0.9],[1992.4,2.3],[1992.8,1.4],[1993.2,0.7],[1993.6,2.0],[1994.0,1.2],[1994.4,0.5],[1994.8,1.6],[1995.2,0.9],[1995.6,1.9],[1996.0,1.1],[1996.4,0.6],[1996.8,1.5],[1997.2,0.3],[1997.6,1.2],[1998.0,0.2],[1998.3,2.1],[1998.6,0.15],[1999.0,1.0],[1999.4,1.6],[1999.8,0.7],[2000.2,1.3],[2000.6,0.95],[2001.2,1.9],[2001.5,0.2],[2001.9,1.2],[2002.3,0.8],[2002.7,1.5],[2003.1,2.1],[2003.5,1.0],[2003.9,0.6],[2004.3,1.4],[2004.8,2.9],[2005.2,1.7],[2005.8,5.0],[2006.2,1.1],[2006.6,0.7],[2007.0,2.6],[2007.4,1.3],[2007.8,2.2],[2008.0,3.3],[2008.4,0.9],[2008.8,1.6],[2009.2,1.0],[2009.6,1.4],[2010.2,1.8],[2010.6,0.6],[2011.0,1.2],[2011.4,0.4],[2011.8,1.5],[2012.2,0.9],[2012.6,1.3],[2013.1,0.1],[2013.4,0.7],[2013.8,1.6],[2014.2,1.1],[2014.6,0.3],[2015.0,1.3],[2015.4,0.8],[2015.8,1.0],[2016.2,0.4],[2016.6,1.2],[2017.0,0.2],[2017.5,1.9],[2017.8,0.7],[2018.2,1.4],[2018.6,0.5],[2019.0,1.1],[2019.4,0.3],
  [1975.9,0.3],[1979.0,0.5],[1982.2,0.6],[1985.0,0.35],[1988.2,0.85],[1991.0,0.8],[1993.9,0.9],[1996.2,0.85],[1999.2,0.45],[2002.0,1.0],[2004.6,0.9],[2006.4,1.4],[2009.4,0.6],[2012.0,1.1],[2014.4,0.9],[2016.4,0.7],[2018.4,0.9]];
const suDw5FitStart = 1973.0;
const suDw5Fit = [
  0.45,0.40,0.48,0.42, 0.50,0.45,0.40,0.48, 0.52,0.45,0.50,0.42, 0.48,0.55,0.45,0.40,
  0.50,0.45,0.52,0.48, 0.55,0.45,0.40,0.38, 0.35,0.45,0.55,0.62, 0.70,0.85,0.75,0.80,
  0.72,0.90,0.78,0.70, 0.85,0.75,0.80,0.68, 0.75,0.85,0.70,0.60, 0.72,0.80,0.65,0.78,
  0.85,0.75,0.82,0.70, 0.90,0.80,0.95,0.85, 0.75,0.90,0.80,0.95, 1.05,0.85,1.00,0.90,
  1.00,0.85,0.95,0.90, 1.05,0.95,1.10,0.92, 1.05,0.95,1.00,1.10, 0.95,1.15,1.05,1.25,
  1.10,1.30,1.40,1.20, 1.05,1.15,1.00,1.10, 1.20,1.05,1.15,1.25, 1.10,1.30,1.20,1.15,
  1.25,1.20,null,null, null,null,null,null, null,null,1.10,1.00, 1.10,1.05,0.95,1.10,
  1.00,1.20,1.05,1.15, 1.00,1.10,1.25,1.35, 1.45,1.80,1.50,1.25, 1.10,1.00,1.15,1.05,
  1.20,1.30,1.25,1.40, 1.35,1.50,1.45,1.60, 1.55,1.70,1.75,1.90, 1.70,1.55,1.60,1.45,
  1.50,1.40,1.35,1.45, 1.30,1.40,1.25,1.35, 1.20,1.30,1.15,1.25, 1.30,1.20,1.40,1.50,
  1.35,1.60,1.45,1.30, 1.25,1.35,1.20,1.30, 1.15,1.25,1.05,1.20, 1.30,1.15,1.00,1.10,
  1.05,1.15,1.00,1.10, 0.95,1.20,1.10,0.90, 0.75,0.60];

// ---------------------------------------------------------------------------
// Panel grid (facets)
// ---------------------------------------------------------------------------
const panels = [
  { title: 'SA-ALL-6',  obs: saAll6Obs, fitStart: saAll6FitStart, fit: saAll6Fit, row: 0, col: 0, x: [1970.5, 2020.4], y: [-0.05, 2.17], yTicks: ticksHalf2, yDigits: 1 },
  { title: 'SA-ALL-7',  obs: saAll7Obs, fitStart: saAll7FitStart, fit: saAll7Fit, row: 0, col: 1, x: [1969.8, 2020.7], y: [-0.1, 2.34],  yTicks: ticksHalf2, yDigits: 1 },
  { title: 'SA-ALL-8',  obs: saAll8Obs, fitStart: saAll8FitStart, fit: saAll8Fit, row: 0, col: 2, x: [1975.0, 2020.6], y: [-0.1, 2.2],   yTicks: ticksHalf2, yDigits: 1 },
  { title: 'SA-DW-5',   obs: saDw5Obs,  fitStart: saDw5FitStart,  fit: saDw5Fit,  row: 0, col: 3, x: [1969.3, 2021.1], y: [-0.16, 3.41], yTicks: ticksUnit3, yDigits: 0 },
  { title: 'S-ALL-1',   obs: sAll1Obs,  fitStart: sAll1FitStart,  fit: sAll1Fit,  row: 1, col: 0, x: [1969.6, 2020.2], y: [-0.35, 9.34], yTicks: ticksS1,    yDigits: 1 },
  { title: 'S-ALL-2',   obs: sAll2Obs,  fitStart: sAll2FitStart,  fit: sAll2Fit,  row: 1, col: 1, x: [1969.8, 2020.9], y: [-0.21, 6.63], yTicks: ticksS2,    yDigits: 0 },
  { title: 'S-ALL-3',   obs: sAll3Obs,  fitStart: sAll3FitStart,  fit: sAll3Fit,  row: 1, col: 2, x: [1970.8, 2020.7], y: [-0.6, 15.98], yTicks: ticksS3,    yDigits: 0 },
  { title: 'S-ID.PH-5', obs: sIdPh5Obs, fitStart: sIdPh5FitStart, fit: sIdPh5Fit, row: 1, col: 3, x: [1969.3, 2020.9], y: [-0.12, 2.38], yTicks: ticksHalf2, yDigits: 1, shade: true },
  { title: 'SU-ALL-6',  obs: suAll6Obs, fitStart: suAll6FitStart, fit: suAll6Fit, row: 2, col: 0, x: [1970.5, 2020.4], y: [-0.1, 2.32],  yTicks: ticksHalf2, yDigits: 1 },
  { title: 'SU-ALL-7',  obs: suAll7Obs, fitStart: suAll7FitStart, fit: suAll7Fit, row: 2, col: 1, x: [1971.2, 2020.9], y: [-0.08, 2.15], yTicks: ticksHalf2, yDigits: 1 },
  { title: 'SU-ALL-8',  obs: suAll8Obs, fitStart: suAll8FitStart, fit: suAll8Fit, row: 2, col: 2, x: [1974.2, 2020.8], y: [-0.1, 2.59],  yTicks: ticksHalf25, yDigits: 1 },
  { title: 'SU-DW-5',   obs: suDw5Obs,  fitStart: suDw5FitStart,  fit: suDw5Fit,  row: 2, col: 3, x: [1970.5, 2021.1], y: [-0.2, 5.23],  yTicks: ticksUnit5, yDigits: 0 }
];

// plot-area geometry of the facet grid (px)
const colLeft = [90, 379, 668, 953];
const colWidth = [227, 227, 227, 229];
const rowTop = [42, 263, 488];
const rowHeight = [128, 130, 129];

const Y_AXIS_W = 70;    // room for y tick labels
const X_AXIS_H = 40;    // room for x tick labels
const TITLE_H = 40;     // strip title band
const RIGHT_PAD = 30;   // overflow room for the last x label
const QUARTER = 0.25;

const FONT = '"Liberation Sans", Arial, Helvetica, sans-serif';
const POINT_BLUE = '#4169e1';
const POINT_LIGHT = [135, 196, 245];

Chart.defaults.font.family = FONT;

// blue shade for the S-ID.PH-5 observations, fading with time
function shadeByTime(t) {
  const a = Math.min(1, Math.max(0, (t - 2011) / 7.5));
  const r = Math.round(65 + (POINT_LIGHT[0] - 65) * a);
  const g = Math.round(105 + (POINT_LIGHT[1] - 105) * a);
  const b = Math.round(225 + (POINT_LIGHT[2] - 225) * a);
  return `rgb(${r},${g},${b})`;
}

// light panel frame drawn over the data
const panelFrame = {
  id: 'panelFrame',
  afterDatasetsDraw(chart) {
    const { ctx, chartArea: a } = chart;
    ctx.save();
    ctx.strokeStyle = '#c9c9c9';
    ctx.lineWidth = 1.5;
    ctx.strokeRect(a.left, a.top, a.right - a.left, a.bottom - a.top);
    ctx.restore();
  }
};

const page = document.getElementById('page');

panels.forEach(p => {
  const plotL = colLeft[p.col], plotT = rowTop[p.row];
  const W = Y_AXIS_W + colWidth[p.col] + RIGHT_PAD;
  const H = TITLE_H + rowHeight[p.row] + X_AXIS_H;
  const canvas = document.createElement('canvas');
  canvas.width = W; canvas.height = H;
  canvas.style.left = (plotL - Y_AXIS_W) + 'px';
  canvas.style.top = (plotT - TITLE_H) + 'px';
  canvas.style.width = W + 'px';
  canvas.style.height = H + 'px';
  page.appendChild(canvas);

  const obsData = p.obs.map(o => ({ x: o[0], y: o[1] }));
  const fitData = p.fit.map((v, i) => ({ x: p.fitStart + i * QUARTER, y: v }));

  new Chart(canvas, {
    type: 'scatter',
    data: {
      datasets: [
        {
          label: 'fitted',
          data: fitData,
          showLine: true,
          spanGaps: false,
          borderColor: '#000000',
          borderWidth: 1.7,
          pointRadius: 0,
          pointHoverRadius: 0,
          tension: 0,
          order: 0
        },
        {
          label: 'observed',
          data: obsData,
          pointRadius: 5,
          pointHoverRadius: 5,
          borderWidth: 0,
          backgroundColor: p.shade ? (c => shadeByTime(c.raw ? c.raw.x : 2000)) : POINT_BLUE,
          order: 1
        }
      ]
    },
    options: {
      responsive: false,
      animation: false,
      events: [],
      layout: { padding: { left: 0, top: 0, right: RIGHT_PAD, bottom: 0 } },
      plugins: {
        legend: { display: false },
        tooltip: { enabled: false },
        title: {
          display: true,
          text: p.title,
          fullSize: false,
          align: 'center',
          color: '#1a1a1a',
          font: { size: 21, weight: 'normal', family: FONT, lineHeight: 1.2 },
          padding: { top: 7, bottom: 7.8 }
        }
      },
      scales: {
        x: {
          type: 'linear',
          position: 'bottom',
          bounds: 'data',
          min: p.x[0],
          max: p.x[1],
          afterBuildTicks: ax => {
            ax.ticks = decadeTicks.filter(v => v >= ax.min && v <= ax.max).map(v => ({ value: v }));
          },
          afterFit: ax => { ax.height = X_AXIS_H; ax.paddingLeft = 0; ax.paddingRight = 0; },
          ticks: {
            autoSkip: false, maxRotation: 0, minRotation: 0, padding: 5,
            color: '#4d4d4d', font: { size: 21, family: FONT },
            callback: v => String(v)
          },
          grid: { drawOnChartArea: false, drawTicks: true, tickLength: 5, tickColor: '#5a5a5a', tickWidth: 1 },
          border: { display: true, color: '#8c8c8c', width: 1 }
        },
        y: {
          type: 'linear',
          position: 'left',
          bounds: 'data',
          min: p.y[0],
          max: p.y[1],
          afterBuildTicks: ax => {
            ax.ticks = p.yTicks.filter(v => v >= ax.min && v <= ax.max).map(v => ({ value: v }));
          },
          afterFit: ax => { ax.width = Y_AXIS_W; ax.paddingTop = 0; ax.paddingBottom = 0; },
          ticks: {
            autoSkip: false, padding: 6,
            color: '#4d4d4d', font: { size: 20, family: FONT },
            callback: v => Number(v).toFixed(p.yDigits)
          },
          grid: { drawOnChartArea: false, drawTicks: true, tickLength: 5, tickColor: '#5a5a5a', tickWidth: 1 },
          border: { display: true, color: '#8c8c8c', width: 1 }
        }
      }
    },
    plugins: [panelFrame]
  });
});
</script>
</body>
</html>
